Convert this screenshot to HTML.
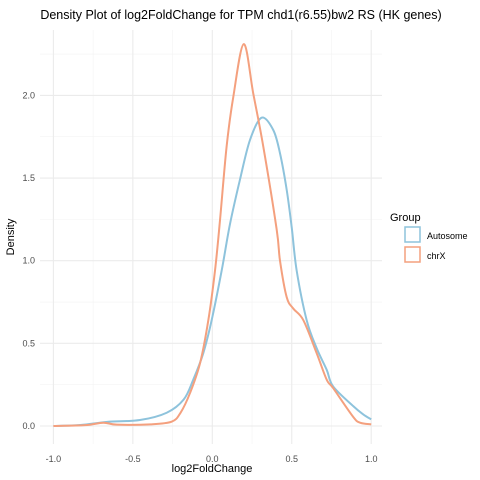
<!DOCTYPE html>
<html><head><meta charset="utf-8"><style>
body{margin:0;background:#fff;}
svg{display:block;font-family:"Liberation Sans",sans-serif;}
</style></head><body>
<svg id="chart" width="480" height="480">
<text x="241" y="19" text-anchor="middle" font-size="12.5" fill="#000">Density Plot of log2FoldChange for TPM chd1(r6.55)bw2 RS (HK genes)</text>
<g id="grid"></g>
<g id="series"></g>
<g id="axes"></g>
<text x="212" y="472" text-anchor="middle" font-size="11" fill="#000">log2FoldChange</text>
<text transform="translate(14,237) rotate(-90)" text-anchor="middle" font-size="11" fill="#000">Density</text>
<g>
<text x="390" y="221" font-size="11" fill="#000">Group</text>
<g>
<rect x="405" y="227" width="15" height="15" fill="none" stroke="#8ec3dc" stroke-width="1.5"/>
<text x="427" y="239" font-size="9" fill="#000">Autosome</text></g>
<g>
<rect x="405" y="247" width="15" height="15" fill="none" stroke="#f4a07e" stroke-width="1.5"/>
<text x="427" y="259" font-size="9" fill="#000">chrX</text></g>
</g>
</svg>
<script>
const xTicks=[-1.0,-0.5,0.0,0.5,1.0];
const xTickLabels=["-1.0","-0.5","0.0","0.5","1.0"];
const yTicks=[0.0,0.5,1.0,1.5,2.0];
const yTickLabels=["0.0","0.5","1.0","1.5","2.0"];
const autoX=[-1.0,-0.83,-0.66,-0.455,-0.287,-0.18,-0.12,-0.057,-0.004,0.059,0.111,0.174,0.237,0.31,0.384,0.426,0.468,0.5,0.531,0.594,0.657,0.72,0.76,0.887,0.95,1.0];
const autoY=[0.0,0.006,0.025,0.036,0.08,0.16,0.28,0.44,0.64,0.94,1.22,1.49,1.73,1.865,1.79,1.65,1.43,1.2,0.94,0.64,0.47,0.34,0.24,0.12,0.07,0.04];
const chrxX=[-1.0,-0.8,-0.686,-0.6,-0.39,-0.256,-0.2,-0.14,-0.077,-0.025,0.017,0.048,0.09,0.132,0.198,0.258,0.321,0.405,0.426,0.468,0.51,0.573,0.657,0.72,0.76,0.886,0.93,1.0];
const chrxY=[0.0,0.005,0.02,0.008,0.01,0.026,0.08,0.2,0.38,0.64,0.94,1.24,1.69,1.99,2.31,2.01,1.69,1.19,1.0,0.78,0.71,0.64,0.44,0.28,0.23,0.056,0.02,0.01];
const NS="http://www.w3.org/2000/svg";
const X=v=>212.3+v*158.9, Y=v=>426-v*165.3;
const L=40,R=382,T=30,B=444;
const grid=document.getElementById('grid'), axes=document.getElementById('axes'), series=document.getElementById('series');
function ln(g,x1,y1,x2,y2,c,w){const e=document.createElementNS(NS,'line');e.setAttribute('x1',x1);e.setAttribute('y1',y1);e.setAttribute('x2',x2);e.setAttribute('y2',y2);e.setAttribute('stroke',c);e.setAttribute('stroke-width',w);g.appendChild(e);return e;}
for(let v=-0.75;v<=0.76;v+=0.5){const e=ln(grid,X(v),T,X(v),B,'#f3f3f3',0.6);

}
for(let v=0.25;v<=2.3;v+=0.5){const e=ln(grid,L,Y(v),R,Y(v),'#f3f3f3',0.6);

}
xTicks.forEach((v,i)=>{const e=ln(grid,X(v),T,X(v),B,'#ebebeb',1.1);


const t=document.createElementNS(NS,'text');t.setAttribute('x',X(v));t.setAttribute('y',462);t.setAttribute('text-anchor','middle');t.setAttribute('font-size','9');t.setAttribute('fill','#4d4d4d');t.textContent=xTickLabels[i];


axes.appendChild(t);});
yTicks.forEach((v,i)=>{const e=ln(grid,L,Y(v),R,Y(v),'#ebebeb',1.1);


const t=document.createElementNS(NS,'text');t.setAttribute('x',35);t.setAttribute('y',Y(v)+3);t.setAttribute('text-anchor','end');t.setAttribute('font-size','9');t.setAttribute('fill','#4d4d4d');t.textContent=yTickLabels[i];


axes.appendChild(t);});
function curve(xs,ys,c,name){let d='';const p=xs.map((x,i)=>[X(x),Y(ys[i])]);
d='M'+p[0][0]+','+p[0][1];
for(let i=0;i<p.length-1;i++){const p0=p[Math.max(0,i-1)],p1=p[i],p2=p[i+1],p3=p[Math.min(p.length-1,i+2)];
const c1=[p1[0]+(p2[0]-p0[0])/6,p1[1]+(p2[1]-p0[1])/6],c2=[p2[0]-(p3[0]-p1[0])/6,p2[1]-(p3[1]-p1[1])/6];
d+=` C${c1[0]},${c1[1]} ${c2[0]},${c2[1]} ${p2[0]},${p2[1]}`;}
const e=document.createElementNS(NS,'path');e.setAttribute('d',d);e.setAttribute('fill','none');e.setAttribute('stroke',c);e.setAttribute('stroke-width','2');


series.appendChild(e);}
curve(autoX,autoY,'#8ec3dc','autosome-density-line');
curve(chrxX,chrxY,'#f4a07e','chrx-density-line');
</script>
</body></html>
